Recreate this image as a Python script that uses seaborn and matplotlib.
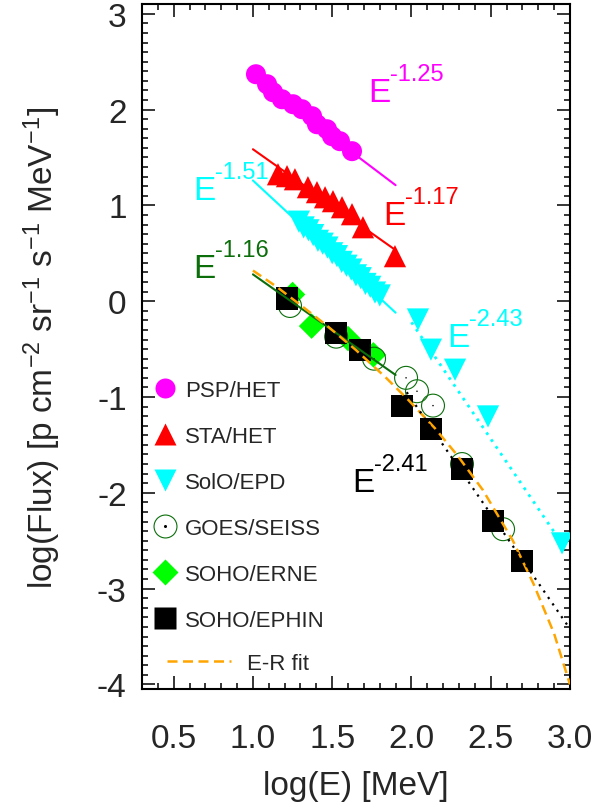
import matplotlib
matplotlib.use("Agg")
import matplotlib.pyplot as plt
from matplotlib.lines import Line2D
from matplotlib.ticker import MultipleLocator
import seaborn as sns

# values: log10(E/MeV), log10(flux)
psp_x = [1.019, 1.089, 1.127, 1.183, 1.253, 1.309, 1.373, 1.404, 1.467, 1.499, 1.549, 1.625]
psp_y = [2.369, 2.265, 2.181, 2.108, 2.056, 2.004, 1.931, 1.847, 1.795, 1.722, 1.670, 1.566]

sta_x = [1.158, 1.215, 1.265, 1.347, 1.404, 1.455, 1.505, 1.562, 1.625, 1.694, 1.896]
sta_y = [1.325, 1.305, 1.273, 1.190, 1.138, 1.085, 1.044, 0.981, 0.908, 0.772, 0.470]

solo_x = [1.29, 1.32, 1.35, 1.38, 1.41, 1.44, 1.47, 1.50, 1.53, 1.56, 1.59, 1.62,
          1.65, 1.68, 1.71, 1.74, 1.77, 1.80, 2.041, 2.123, 2.275, 2.483, 2.950]
solo_y = [0.83, 0.77, 0.74, 0.69, 0.63, 0.60, 0.56, 0.50, 0.47, 0.41, 0.37, 0.33,
          0.27, 0.24, 0.18, 0.15, 0.09, 0.06, -0.191, -0.506, -0.715, -1.203, -2.528]

goes_x = [1.234, 1.525, 1.764, 1.966, 2.035, 2.136, 2.319, 2.578]
goes_y = [-0.05, -0.37, -0.60, -0.80, -0.94, -1.09, -1.70, -2.38]

erne_x = [1.25, 1.37, 1.60, 1.76]
erne_y = [0.07, -0.26, -0.39, -0.56]

ephin_x = [1.215, 1.524, 1.675, 1.940, 2.123, 2.319, 2.515, 2.697]
ephin_y = [0.028, -0.334, -0.509, -1.093, -1.336, -1.754, -2.294, -2.711]

# power-law fits (end points) and the Ellison-Ramaty fit curve
psp_fit_x, psp_fit_y = [1.0, 1.9], [2.336, 1.211]
sta_fit_x, sta_fit_y = [1.0, 1.9], [1.586, 0.533]
solo_fit1_x, solo_fit1_y = [1.0, 1.9], [1.26, -0.12]
solo_fit2_x, solo_fit2_y = [2.0, 2.95], [-0.22, -2.53]
low_fit1_x, low_fit1_y = [1.0, 1.9], [0.28, -0.77]
low_fit2_x, low_fit2_y = [1.97, 3.0], [-0.95, -3.42]
er_x = [1.0, 1.15, 1.3, 1.47, 1.65, 1.84, 1.98, 2.15, 2.29, 2.45, 2.64, 2.77, 2.90, 3.0]
er_y = [0.32, 0.15, -0.04, -0.26, -0.51, -0.80, -1.03, -1.33, -1.61, -1.97, -2.50, -2.95, -3.47, -4.0]

MAGENTA, RED, CYAN = "#ff00ff", "#ff0000", "#00ffff"
DKGREEN, LIME, ORANGE = "#0b6e0b", "#00ff00", "#ffa500"

sns.set_style("ticks")
plt.rcParams["font.family"] = ["Liberation Sans", "DejaVu Sans"]
plt.rcParams["mathtext.fontset"] = "custom"
plt.rcParams["mathtext.rm"] = "Liberation Sans"
plt.rcParams["mathtext.it"] = "Liberation Sans:italic"
plt.rcParams["axes.unicode_minus"] = False

fig = plt.figure(figsize=(6.12, 8.12), dpi=100)
ax = fig.add_axes([0.232, 0.150, 0.6993, 0.8436])

# markers
sns.scatterplot(x=psp_x, y=psp_y, marker="o", s=14.4**2, color=MAGENTA, edgecolor="none", ax=ax, legend=False, zorder=3)
sns.scatterplot(x=sta_x, y=sta_y, marker="^", s=16**2, color=RED, edgecolor="none", ax=ax, legend=False, zorder=3)
sns.scatterplot(x=solo_x, y=solo_y, marker="v", s=16**2, color=CYAN, edgecolor="none", ax=ax, legend=False, zorder=3)
sns.scatterplot(x=erne_x, y=erne_y, marker="D", s=13**2, color=LIME, edgecolor="none", ax=ax, legend=False, zorder=3)
sns.scatterplot(x=goes_x, y=goes_y, marker="o", s=16.5**2, facecolor="none", edgecolor=DKGREEN, linewidth=0.8, ax=ax, legend=False, zorder=3)
sns.scatterplot(x=goes_x, y=goes_y, marker="o", s=1.2, color="black", edgecolor="none", ax=ax, legend=False, zorder=3)
sns.scatterplot(x=ephin_x, y=ephin_y, marker="s", s=16**2, color="black", edgecolor="none", ax=ax, legend=False, zorder=3)

# fit lines
sns.lineplot(x=psp_fit_x, y=psp_fit_y, color=MAGENTA, lw=1.5, ax=ax, estimator=None, zorder=4)
sns.lineplot(x=sta_fit_x, y=sta_fit_y, color=RED, lw=1.5, ax=ax, estimator=None, zorder=4)
sns.lineplot(x=solo_fit1_x, y=solo_fit1_y, color=CYAN, lw=1.5, ax=ax, estimator=None, zorder=4)
sns.lineplot(x=solo_fit2_x, y=solo_fit2_y, color=CYAN, lw=2.0, linestyle=(0, (1, 2)), ax=ax, estimator=None, zorder=4)
sns.lineplot(x=low_fit1_x, y=low_fit1_y, color=DKGREEN, lw=1.5, ax=ax, estimator=None, zorder=4)
sns.lineplot(x=er_x, y=er_y, color=ORANGE, lw=1.8, linestyle=(0, (4, 2.2)), ax=ax, estimator=None, zorder=4)
sns.lineplot(x=low_fit2_x, y=low_fit2_y, color="black", lw=1.6, linestyle=(0, (1, 2.5)), ax=ax, estimator=None, zorder=5)


def power_label(x, y, index, color):
    # big "E" with a raised exponent, IDL style
    ax.text(x, y, "E", color=color, fontsize=24, ha="left", va="baseline")
    ax.annotate(index, xy=(x, y), xytext=(16, 15), textcoords="offset points",
                color=color, fontsize=17, ha="left", va="baseline")


power_label(1.726, 2.087, "-1.25", MAGENTA)
power_label(1.820, 0.804, "-1.17", RED)
power_label(0.622, 1.065, "-1.51", CYAN)
power_label(0.622, 0.250, "-1.16", DKGREEN)
power_label(2.224, -0.470, "-2.43", CYAN)
power_label(1.625, -1.984, "-2.41", "black")

# legends
handles = [
    Line2D([], [], ls="none", marker="o", ms=14.4, color=MAGENTA, mec="none"),
    Line2D([], [], ls="none", marker="^", ms=16, color=RED, mec="none"),
    Line2D([], [], ls="none", marker="v", ms=16, color=CYAN, mec="none"),
    (Line2D([], [], ls="none", marker="o", ms=16.5, mfc="none", mec=DKGREEN, mew=0.8),
     Line2D([], [], ls="none", marker="o", ms=1.2, color="black")),
    Line2D([], [], ls="none", marker="D", ms=13, color=LIME, mec="none"),
    Line2D([], [], ls="none", marker="s", ms=16, color="black", mec="none"),
]
labels = ["PSP/HET", "STA/HET", "SolO/EPD", "GOES/SEISS", "SOHO/ERNE", "SOHO/EPHIN"]
leg1 = ax.legend(handles, labels, loc="upper left", bbox_to_anchor=(0.028, 0.452),
                 frameon=False, fontsize=16, handlelength=1.0, handletextpad=0.4,
                 labelspacing=1.13, borderpad=0, borderaxespad=0)
ax.add_artist(leg1)
er_handle = Line2D([], [], color=ORANGE, lw=1.8, linestyle=(0, (4, 2.2)))
ax.legend([er_handle], ["E-R fit"], loc="upper left", bbox_to_anchor=(0.058, 0.053),
          frameon=False, fontsize=16, handlelength=2.9, handletextpad=0.7,
          borderpad=0, borderaxespad=0)

# axes
ax.set_xlim(0.3, 3.0)
ax.set_ylim(-4.05, 3.1)
ax.xaxis.set_minor_locator(MultipleLocator(0.1))
ax.yaxis.set_minor_locator(MultipleLocator(0.1))
ax.set_xticks([0.5, 1.0, 1.5, 2.0, 2.5, 3.0])
ax.set_xticklabels(["0.5", "1.0", "1.5", "2.0", "2.5", "3.0"])
ax.set_yticks([-4, -3, -2, -1, 0, 1, 2, 3])
ax.set_yticklabels(["-4", "-3", "-2", "-1", "0", "1", "2", "3"])
ax.tick_params(which="both", direction="in", top=True, right=True, width=1.1, color="black")
ax.tick_params(which="major", length=9.5, labelsize=24)
ax.tick_params(which="minor", length=4.5)
ax.tick_params(axis="x", which="major", pad=24)
ax.tick_params(axis="y", which="major", pad=11)
for sp in ax.spines.values():
    sp.set_linewidth(1.5)
    sp.set_color("black")

ax.set_xlabel("log(E) [MeV]", fontsize=24)
ax.xaxis.set_label_coords(0.5, -0.118)
ax.set_ylabel(r"log(Flux) [p cm$^{\mathregular{-2}}$ sr$^{\mathregular{-1}}$ s$^{\mathregular{-1}}$ MeV$^{\mathregular{-1}}$]", fontsize=24)
ax.yaxis.set_label_coords(-0.185, 0.5)

fig.savefig("out.png", dpi=100)
